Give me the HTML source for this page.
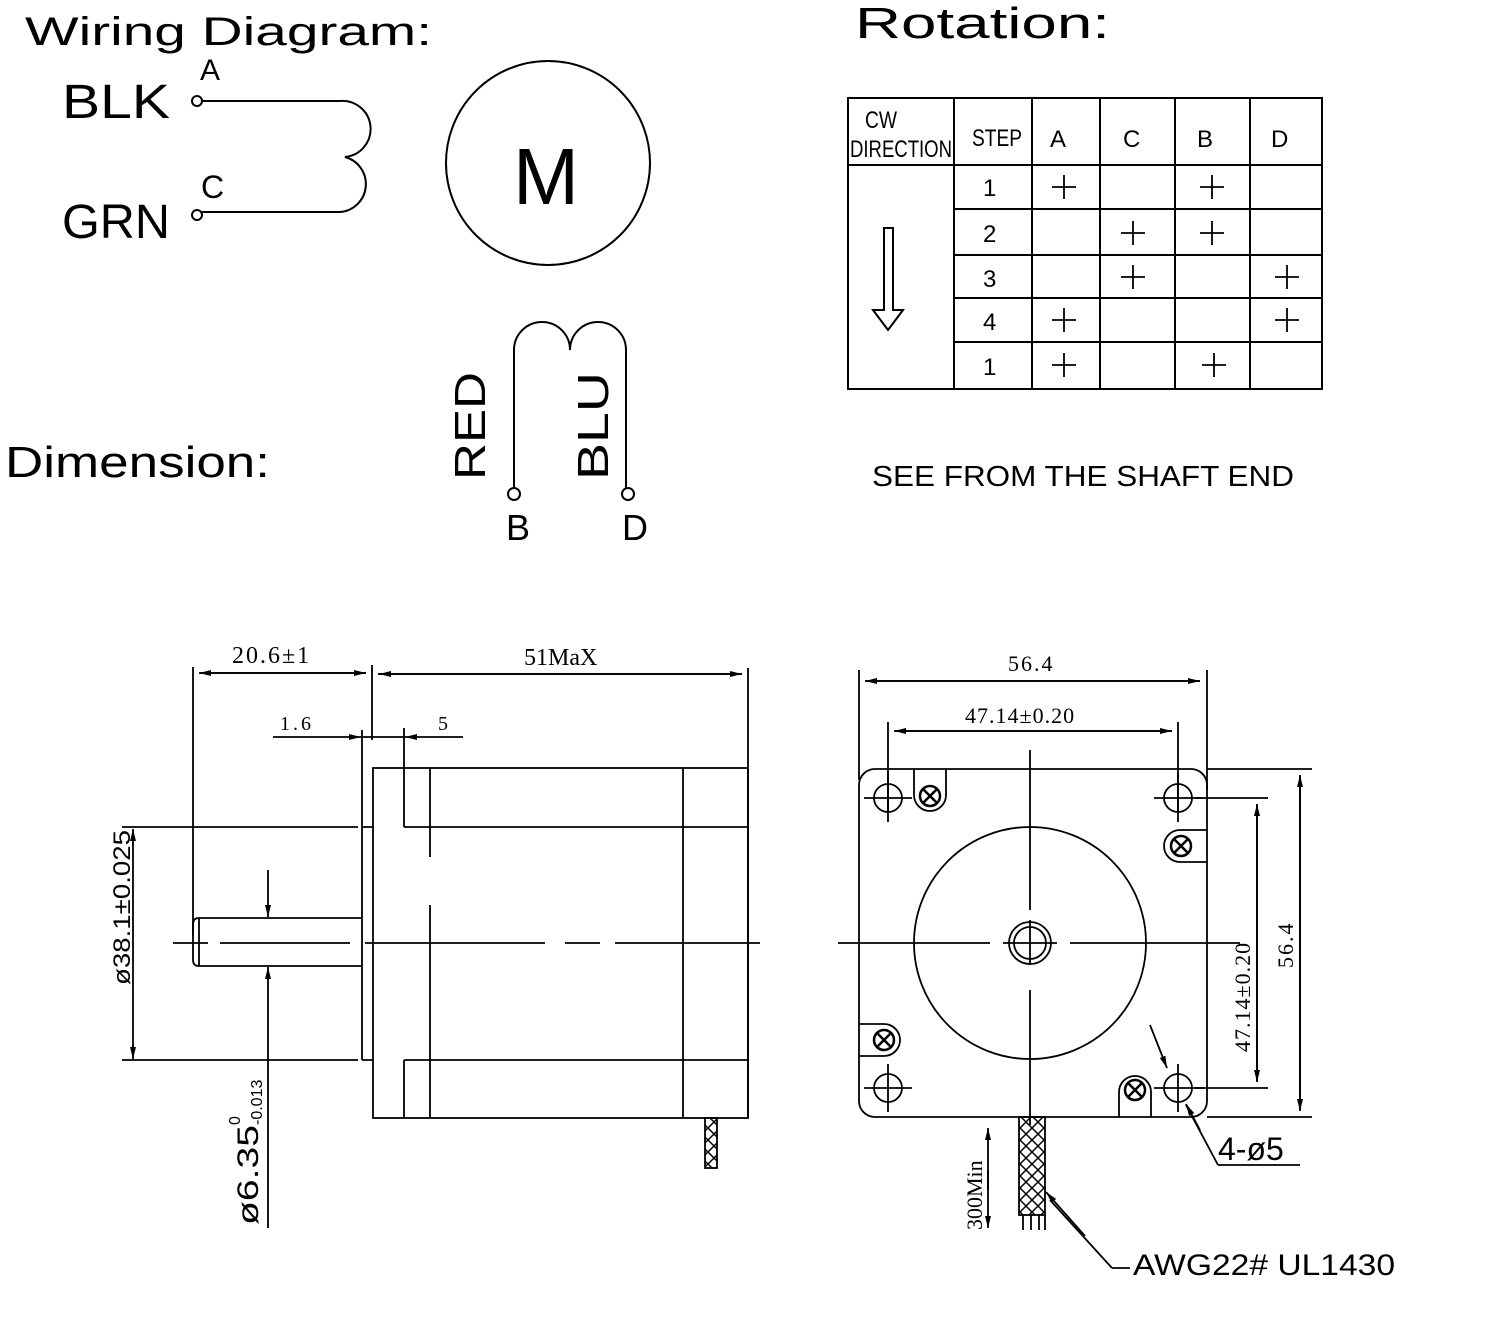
<!DOCTYPE html>
<html><head><meta charset="utf-8"><style>
html,body{margin:0;padding:0;background:#fff;}
svg{display:block;}
text{font-family:"Liberation Sans",sans-serif;fill:#000;}
.s{font-family:"Liberation Serif",serif;}
</style></head><body>
<svg width="1487" height="1319" viewBox="0 0 1487 1319" xmlns="http://www.w3.org/2000/svg">
<defs>
<marker id="ar" markerWidth="12" markerHeight="6" refX="12" refY="3" orient="auto" markerUnits="userSpaceOnUse"><path d="M0,0 L12,3 L0,6 z" fill="#000"/></marker>
<pattern id="hx" width="12" height="12" patternUnits="userSpaceOnUse"><path d="M0,0 L12,12 M12,0 L0,12" stroke="#000" stroke-width="1.5"/></pattern>
<g id="h" stroke="#000" stroke-width="1.8" fill="none"><circle cx="0" cy="0" r="14"/><path d="M-24,0H24M0,-24V24"/></g>
</defs>
<g stroke="#000" stroke-width="2" fill="none">
<circle cx="197" cy="101" r="5"/><circle cx="197" cy="215" r="5"/>
<path d="M202,101 H340 A28,28 0 0 1 345,157 A28,28 0 0 1 340,212 H202"/>
<circle cx="548" cy="163" r="102"/>
<circle cx="514" cy="494" r="6"/><circle cx="628" cy="494" r="6"/>
<path d="M514,488 V350 A28,28 0 0 1 570,350 A28,28 0 0 1 626,350 V488"/>
<rect x="848" y="98" width="474" height="291"/>
<path d="M954,98V389 M1032,98V389 M1100,98V389 M1175,98V389 M1250,98V389 M848,165H1322 M954,209H1322 M954,255H1322 M954,298H1322 M954,342H1322"/>
<path d="M884,228 H893 V310 H903 L888,330 L873,310 H884 Z"/>
<g stroke-width="1.8">
<path d="M1052,187h24M1064,175v24 M1200,187h24M1212,175v24"/>
<path d="M1121,233h24M1133,221v24 M1200,233h24M1212,221v24"/>
<path d="M1121,277h24M1133,265v24 M1275,277h24M1287,265v24"/>
<path d="M1052,320h24M1064,308v24 M1275,320h24M1287,308v24"/>
<path d="M1052,365h24M1064,353v24 M1202,365h24M1214,353v24"/>
</g>
</g>
<g stroke="#000" stroke-width="1.8" fill="none">
<path d="M193,667 V935 M372,665 V740 M748,668 V1118"/>
<path d="M200,673 H366" marker-end="url(#ar)"/><path d="M366,673 H199" marker-end="url(#ar)"/>
<path d="M378,674 H742" marker-end="url(#ar)"/><path d="M742,674 H379" marker-end="url(#ar)"/>
<path d="M273,737 H361" marker-end="url(#ar)"/><path d="M463,737 H405" marker-end="url(#ar)"/>
<path d="M362,730 V1060 M404,728 V827 M362,737H404"/>
<rect x="373" y="768" width="375" height="350"/>
<path d="M404,827 H748 M404,1060 H748 M404,1060 V1118 M430,768 V857 M430,905 V1118 M683,768 V1118 M362,827 H373 M362,1060 H373"/>
<path d="M122,827 H358 M122,1060 H358"/>
<path d="M133,833 V1054" /><path d="M133,845 V829" marker-end="url(#ar)"/><path d="M133,1045 V1059" marker-end="url(#ar)"/>
<path d="M362,918 H199 Q193,918 193,924 V960 Q193,966 199,966 H362 M199,918 V966"/>
<path d="M173,943 H208 M220,943 H350 M365,943 H545 M565,943 H600 M615,943 H760" />
<path d="M268,870 V917" marker-end="url(#ar)"/><path d="M268,1228 V967" marker-end="url(#ar)"/>
<rect x="705" y="1118" width="12" height="50" fill="url(#hx)"/>
<rect x="859" y="769" width="348" height="348" rx="16"/>
<path d="M859,670 V780 M1207,670 V790 M888,722 V812 M1178,722 V812"/>
<path d="M866,681 H1200" marker-end="url(#ar)"/><path d="M1200,681 H865" marker-end="url(#ar)"/>
<path d="M895,731 H1172" marker-end="url(#ar)"/><path d="M1172,731 H894" marker-end="url(#ar)"/>
<path d="M1207,769 H1312 M1207,1117 H1312 M1195,798 H1268 M1195,1088 H1268"/>
<path d="M1300,776 V1111" marker-end="url(#ar)"/><path d="M1300,1110 V775" marker-end="url(#ar)"/>
<path d="M1257,805 V1082" marker-end="url(#ar)"/><path d="M1257,1081 V804" marker-end="url(#ar)"/>
<use href="#h" x="888" y="798"/><use href="#h" x="1178" y="798"/><use href="#h" x="888" y="1088"/><use href="#h" x="1178" y="1088"/>
<path d="M914,769 V795 A16,16 0 0 0 946,795 V769 M1207,830 H1180 A16,16 0 0 0 1180,862 H1207 M859,1024 H884 A16,16 0 0 1 884,1056 H859 M1119,1117 V1092 A16,16 0 0 1 1151,1092 V1117"/>
<g stroke-width="2.5">
<circle cx="930" cy="796" r="10"/><path d="M923,789l14,14M937,789l-14,14"/>
<circle cx="1181" cy="846" r="10"/><path d="M1174,839l14,14M1188,839l-14,14"/>
<circle cx="884" cy="1040" r="10"/><path d="M877,1033l14,14M891,1033l-14,14"/>
<circle cx="1135" cy="1090" r="10"/><path d="M1128,1083l14,14M1142,1083l-14,14"/>
</g>
<circle cx="1030" cy="943" r="116"/>
<circle cx="1030" cy="943" r="21"/><circle cx="1030" cy="943" r="16"/>
<path d="M838,943 H990 M1003,943 H1057 M1070,943 H1240 M1030,750 V910 M1030,920 V965 M1030,990 V1125"/>
<rect x="1019" y="1117" width="26" height="98" fill="url(#hx)"/>
<path d="M1023,1215 V1230 M1031,1215 V1230 M1039,1215 V1230 M1045,1215 V1230"/>
<path d="M988,1190 V1128" marker-end="url(#ar)"/><path d="M988,1170 V1228" marker-end="url(#ar)"/>
<path d="M1112,1268 L1050,1200" /><path d="M1085,1236 L1046,1192" marker-end="url(#ar)"/>
<path d="M1112,1268 H1130"/>
<path d="M1150,1025 L1167,1068" marker-end="url(#ar)"/>
<path d="M1218,1165 L1186,1105" /><path d="M1200,1130 L1186,1104" marker-end="url(#ar)"/>
<path d="M1218,1165 H1300"/>
</g>
<g>
<text x="25" y="45" font-size="40" textLength="407" lengthAdjust="spacingAndGlyphs">Wiring Diagram:</text>
<text x="855" y="38" font-size="44" textLength="255" lengthAdjust="spacingAndGlyphs">Rotation:</text>
<text x="5" y="477" font-size="44" textLength="265" lengthAdjust="spacingAndGlyphs">Dimension:</text>
<text x="62" y="118" font-size="48" textLength="108" lengthAdjust="spacingAndGlyphs">BLK</text>
<text x="62" y="238" font-size="48" textLength="108" lengthAdjust="spacingAndGlyphs">GRN</text>
<text x="200" y="80" font-size="30">A</text>
<text x="201" y="198" font-size="32">C</text>
<text x="513" y="204" font-size="80" textLength="66" lengthAdjust="spacingAndGlyphs">M</text>
<text transform="translate(485,480) rotate(-90)" font-size="44" textLength="108" lengthAdjust="spacingAndGlyphs">RED</text>
<text transform="translate(608,480) rotate(-90)" font-size="44" textLength="108" lengthAdjust="spacingAndGlyphs">BLU</text>
<text x="506" y="540" font-size="36">B</text>
<text x="622" y="540" font-size="36">D</text>
<text x="865" y="128" font-size="24" textLength="32" lengthAdjust="spacingAndGlyphs">CW</text>
<text x="850" y="157" font-size="24" textLength="102" lengthAdjust="spacingAndGlyphs">DIRECTION</text>
<text x="972" y="146" font-size="24" textLength="50" lengthAdjust="spacingAndGlyphs">STEP</text>
<text x="1050" y="147" font-size="24">A</text>
<text x="1123" y="147" font-size="24">C</text>
<text x="1197" y="147" font-size="24">B</text>
<text x="1271" y="147" font-size="24">D</text>
<text x="983" y="196" font-size="24">1</text>
<text x="983" y="242" font-size="24">2</text>
<text x="983" y="287" font-size="24">3</text>
<text x="983" y="330" font-size="24">4</text>
<text x="983" y="375" font-size="24">1</text>
<text x="872" y="486" font-size="29" textLength="422" lengthAdjust="spacingAndGlyphs">SEE FROM THE SHAFT END</text>
<text class="s" x="232" y="663" font-size="24" letter-spacing="2">20.6±1</text>
<text class="s" x="524" y="665" font-size="24">51MaX</text>
<text class="s" x="280" y="730" font-size="20" letter-spacing="3">1.6</text>
<text class="s" x="438" y="730" font-size="20">5</text>
<text transform="translate(130,985) rotate(-90)" font-size="24" textLength="155" lengthAdjust="spacingAndGlyphs">ø38.1±0.025</text>
<text transform="translate(258,1225) rotate(-90)" font-size="30" textLength="100" lengthAdjust="spacingAndGlyphs">ø6.35</text>
<text transform="translate(240,1125) rotate(-90)" font-size="16">0</text>
<text transform="translate(262,1125) rotate(-90)" font-size="16">-0.013</text>
<text class="s" x="1008" y="671" font-size="22" letter-spacing="2">56.4</text>
<text class="s" x="965" y="723" font-size="22" letter-spacing="1">47.14±0.20</text>
<text class="s" transform="translate(1293,968) rotate(-90)" font-size="22" letter-spacing="2">56.4</text>
<text class="s" transform="translate(1250,1052) rotate(-90)" font-size="22" letter-spacing="1">47.14±0.20</text>
<text class="s" transform="translate(982,1230) rotate(-90)" font-size="22">300Min</text>
<text x="1218" y="1160" font-size="32">4-ø5</text>
<text x="1133" y="1275" font-size="30" textLength="262" lengthAdjust="spacingAndGlyphs">AWG22# UL1430</text>
</g>
</svg>
</body></html>
